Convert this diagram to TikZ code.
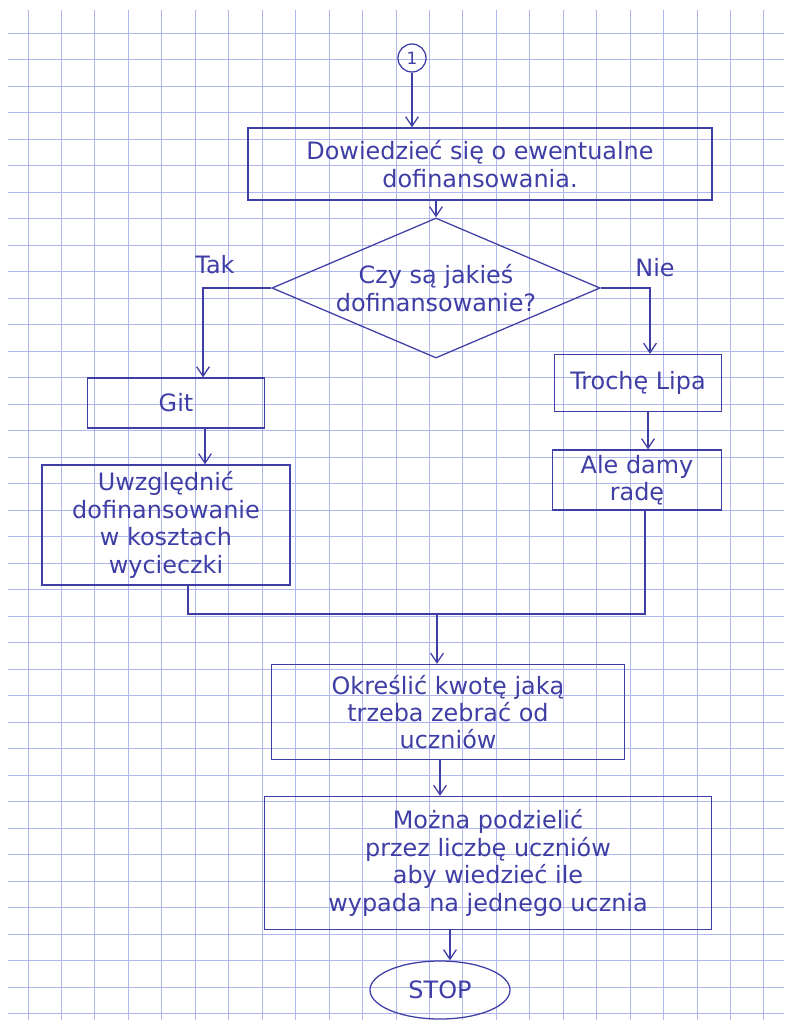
\documentclass[tikz,border=0pt]{standalone}
\usepackage{fontspec}
\setmainfont{DejaVu Sans}
\usetikzlibrary{shapes.geometric, arrows, arrows.meta}
\definecolor{ink}{RGB}{62,62,165}
\definecolor{gridblue}{RGB}{176,182,240}

\begin{document}
\begin{tikzpicture}[x=0.025cm, y=-0.025cm, line width=0.9pt, >={Straight Barb[length=2.4mm, width=3.2mm]},
    every node/.style={rectangle, align=center, draw=ink, text=ink, line width=0.9pt, font=\fontsize{17}{19.5}\selectfont},
    proc/.style={rectangle, inner sep=2pt},
    label/.style={draw=none}]

    \useasboundingbox (0,0) rectangle (784,1020);

    % Paper
    \foreach \i in {0,...,22}
      \draw[gridblue, line width=0.6pt] ({28+33.45*\i},10) -- ({28+33.45*\i},1020);
    \foreach \j in {0,...,37}
      \draw[gridblue, line width=0.6pt] (8,{33+26.5*\j}) -- (784,{33+26.5*\j});

    % Nodes
    \node (circ1) [circle, minimum size=0.7cm, inner sep=0pt, font=\fontsize{12}{14}\selectfont] at (412,58) {1};

    \node (dow) [proc, minimum width=11.6cm, minimum height=1.8cm] at (480,164) {Dowiedzieć się o ewentualne\\
      dofinansowania.};

    \node (czy) [diamond, aspect=2.3, minimum width=8.2cm, minimum height=3.5cm, inner sep=0pt] at (436,288) {Czy są jakieś\\
      dofinansowanie?};

    \node (tak) [label] at (215,265) {Tak};
    \node (nie) [label] at (655,268) {Nie};

    \node (git) [proc, minimum width=4.425cm, minimum height=1.25cm] at (176,403) {Git};

    \node (uwz) [proc, minimum width=6.2cm, minimum height=3cm] at (166,525) {Uwzględnić\\
      dofinansowanie\\
      w kosztach\\
      wycieczki};

    \node (lipa) [proc, minimum width=4.175cm, minimum height=1.425cm] at (638,383) {Trochę Lipa};

    \node (ale) [proc, minimum width=4.225cm, minimum height=1.5cm] at (637,480) {Ale damy\\
      radę};

    \coordinate (join) at (437,614);

    \node (okr) [proc, minimum width=8.825cm, minimum height=2.375cm] at (448,712) {Określić kwotę jaką\\
      trzeba zebrać od\\
      uczniów};

    \node (mozna) [proc, minimum width=11.175cm, minimum height=3.325cm] at (488,863) {Można podzielić\\
      przez liczbę uczniów\\
      aby wiedzieć ile\\
      wypada na jednego ucznia};

    \node (stop) [ellipse, minimum width=3.5cm, minimum height=1.45cm] at (440,990) {STOP};

    % Arrows
    \draw[ink,->] (circ1.south) -- (circ1.south |- dow.north);
    \draw[ink,->] (czy.north |- dow.south) -- (czy.north);
    \draw[ink,->] (czy.west) -| ([xshift=0.675cm]git.north);
    \draw[ink,->] (czy.east) -| ([xshift=0.3cm]lipa.north);
    \draw[ink,->] ([xshift=0.725cm]git.south) -- ([xshift=0.725cm]git.south |- uwz.north);
    \draw[ink,->] ([xshift=0.25cm]lipa.south) -- ([xshift=0.25cm]lipa.south |- ale.north);
    \draw[ink] ([xshift=0.2cm]ale.south) |- (join);
    \draw[ink] ([xshift=0.55cm]uwz.south) |- (join);
    \draw[ink,->] (join) -- (join |- okr.north);
    \draw[ink,->] ([xshift=-0.2cm]okr.south) -- ([xshift=-0.2cm]okr.south |- mozna.north);
    \draw[ink,->] ([xshift=-0.95cm]mozna.south) -- ([xshift=-0.95cm]mozna.south |- stop.north);

\end{tikzpicture}
\end{document}
